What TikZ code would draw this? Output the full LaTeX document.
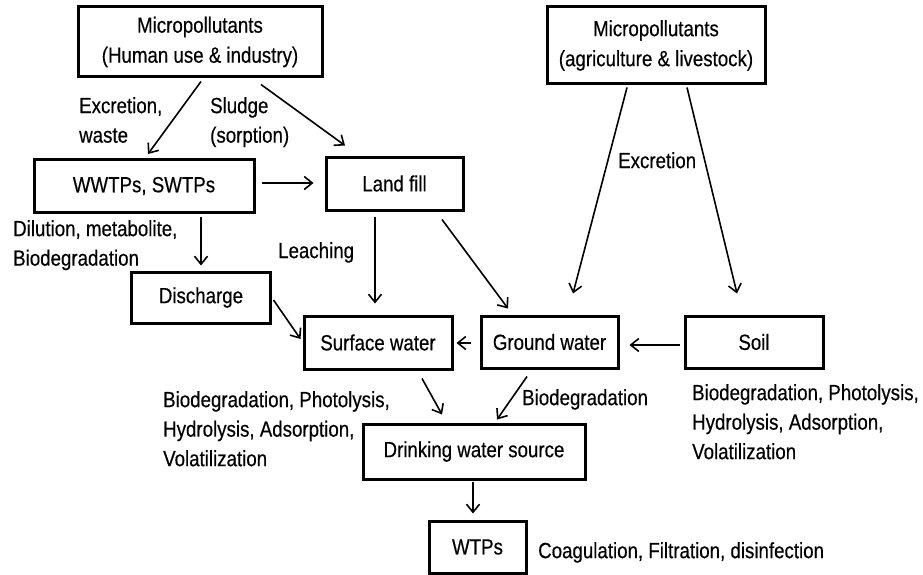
\documentclass[tikz,border=0pt]{standalone}
\usepackage{fontspec}
\setmainfont{Liberation Sans}[FakeStretch=0.85,FakeBold=0.4]
\usetikzlibrary{arrows.meta,calc}
\begin{document}
\begin{tikzpicture}[x=1pt,y=-1pt,
  box/.style={draw,line width=3pt,align=center,inner sep=0pt,
    font=\fontsize{22}{30}\selectfont},
  lbl/.style={anchor=north west,align=left,inner sep=0pt,
    font=\fontsize{22}{29.5}\selectfont},
  arr/.style={line width=1.6pt,-{Straight Barb[length=8pt,width=13pt]}}]
\useasboundingbox[fill=white] (0,0) rectangle (923,575);
% boxes
\node[box,minimum width=244,minimum height=70] (mp1) at (200,42) {Micropollutants\\(Human use \& industry)};
\node[box,minimum width=218,minimum height=77] (mp2) at (656,45.5) {Micropollutants\\(agriculture \& livestock)};
\node[box,minimum width=220,minimum height=53] (wwtp) at (144,186) {WWTPs, SWTPs};
\node[box,minimum width=137,minimum height=53] (land) at (394.5,183.5) {Land fill};
\node[box,minimum width=139,minimum height=51] (disc) at (201,297.5) {Discharge};
\node[box,minimum width=148,minimum height=53] (surf) at (378,342.5) {Surface water};
\node[box,minimum width=137,minimum height=52] (ground) at (549.5,342) {Ground water};
\node[box,minimum width=138,minimum height=52] (soil) at (754,342) {Soil};
\node[box,minimum width=222,minimum height=55] (dws) at (474,451.5) {Drinking water source};
\node[box,minimum width=97,minimum height=52] (wtps) at (477.5,547) {WTPs};
% labels
\node[lbl] (l1) at (79,97) {Excretion,\\waste};
\node[lbl] (l2) at (210,97) {Sludge\\(sorption)};
\node[lbl] (l3) at (13,220) {Dilution, metabolite,\\Biodegradation};
\node[lbl] (l4) at (278,242) {Leaching};
\node[lbl] (l5) at (618,152) {Excretion};
\node[lbl] (l6) at (163,391) {Biodegradation, Photolysis,\\Hydrolysis, Adsorption,\\Volatilization};
\node[lbl] (l7) at (692,384) {Biodegradation, Photolysis,\\Hydrolysis, Adsorption,\\Volatilization};
\node[lbl] (l8) at (522,389) {Biodegradation};
\node[lbl] (l9) at (538,542) {Coagulation, Filtration, disinfection};
% arrows
\draw[arr] ($(mp1.south)+(1,3)$) -- ($(wwtp.north)+(4,-4)$);
\draw[arr] ($(mp1.south)+(61,6)$) -- ($(land.north)+(-49.5,-10)$);
\draw[arr] ($(wwtp.east)+(6,-3)$) -- ($(land.west)+(-11,-0.5)$);
\draw[arr] ($(wwtp.south)+(57,2.5)$) -- ($(disc.north)+(0,-5)$);
\draw[arr] ($(land.south)+(-19.5,5)$) -- ($(surf.north)+(-3,-11)$);
\draw[arr] ($(land.south)+(47.5,8)$) -- ($(ground.north)+(-41.5,-6)$);
\draw[arr] ($(mp2.south)+(-29,2)$) -- ($(ground.north)+(23.5,-21)$);
\draw[arr] ($(mp2.south)+(31,2)$) -- ($(soil.north)+(-17,-21)$);
\draw[arr] ($(disc.east)+(1.5,2.5)$) -- ($(surf.west)+(-2,-3.5)$);
\draw[arr] ($(ground.west)+(-8.5,1)$) -- ($(surf.east)+(3,0.5)$);
\draw[arr] ($(soil.west)+(-4,3)$) -- ($(ground.east)+(10,3)$);
\draw[arr] ($(surf.south)+(44,8)$) -- ($(dws.north)+(-32,-8)$);
\draw[arr] ($(ground.south)+(-22.5,7)$) -- ($(dws.north)+(23,-3)$);
\draw[arr] ($(dws.south)+(-1,1.5)$) -- ($(wtps.north)+(-4.5,-6)$);
\end{tikzpicture}
\end{document}
